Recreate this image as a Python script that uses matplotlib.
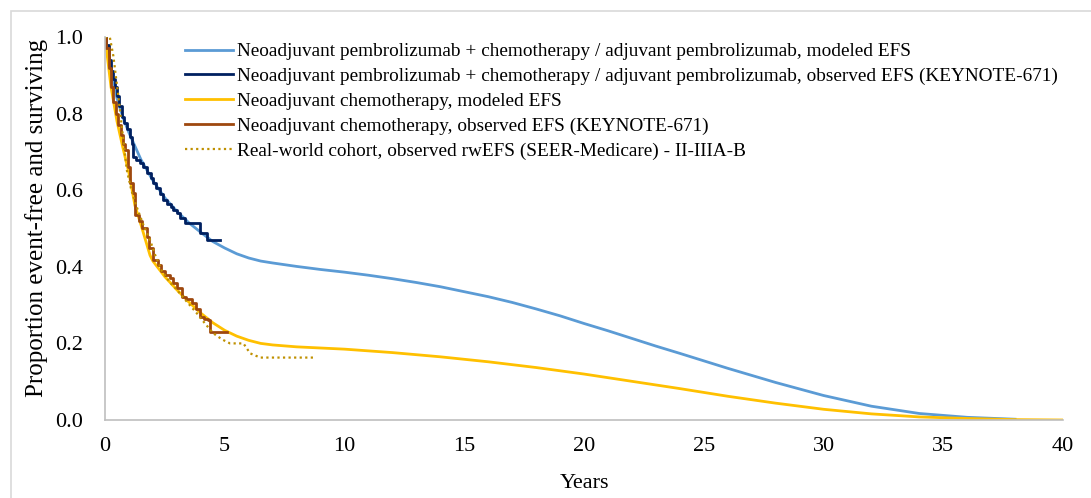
import matplotlib

matplotlib.use("Agg")
import matplotlib.pyplot as plt
from matplotlib.patches import Rectangle

# Modeled curves (years, proportion)
pem_model_t = [0, 0.25, 0.5, 0.75, 1, 1.5, 2, 2.5, 3, 3.5, 4, 4.5, 5, 5.5, 6, 6.5, 7, 8, 9, 10, 11, 12, 13, 14,
               15, 16, 17, 18, 19, 20, 21, 22, 23, 24, 26, 28, 30, 32, 34, 36, 38]
pem_model_s = [1.0, 0.91, 0.84, 0.79, 0.75, 0.68, 0.625, 0.58, 0.545, 0.515, 0.49, 0.466, 0.449, 0.434, 0.423,
               0.415, 0.41, 0.401, 0.393, 0.386, 0.378, 0.369, 0.359, 0.348, 0.335, 0.322, 0.307, 0.29, 0.272,
               0.252, 0.233, 0.213, 0.193, 0.174, 0.135, 0.098, 0.064, 0.036, 0.017, 0.007, 0.002]
chemo_model_t = [0, 0.25, 0.5, 0.75, 1, 1.25, 1.5, 1.88, 2, 2.5, 3, 3.5, 4, 4.5, 5, 5.5, 6, 6.5, 7, 8, 9, 10, 12,
                 14, 16, 18, 20, 22, 24, 26, 28, 30, 32, 34, 36, 38, 40]
chemo_model_s = [1.0, 0.87, 0.78, 0.71, 0.645, 0.56, 0.51, 0.43, 0.415, 0.374, 0.34, 0.308, 0.279, 0.254, 0.234,
                 0.219, 0.208, 0.2, 0.196, 0.191, 0.188, 0.185, 0.176, 0.165, 0.152, 0.137, 0.12, 0.101, 0.082,
                 0.062, 0.044, 0.028, 0.016, 0.008, 0.004, 0.001, 0.0]

# Observed KEYNOTE-671 EFS (step curves)
pem_obs_t = [0, 0.05, 0.15, 0.25, 0.35, 0.42, 0.5, 0.6, 0.7, 0.8, 0.9, 1.04, 1.12, 1.18, 1.3, 1.45, 1.6, 1.75,
             1.9, 2.02, 2.15, 2.3, 2.44, 2.6, 2.75, 2.85, 3.0, 3.15, 3.34, 3.97, 4.25, 4.81]
pem_obs_s = [1.0, 0.98, 0.94, 0.91, 0.89, 0.87, 0.845, 0.82, 0.79, 0.775, 0.76, 0.74, 0.72, 0.687, 0.68, 0.67,
             0.661, 0.645, 0.632, 0.618, 0.605, 0.59, 0.574, 0.565, 0.555, 0.548, 0.54, 0.528, 0.514, 0.487, 0.47,
             0.47]
chemo_obs_t = [0, 0.05, 0.15, 0.25, 0.35, 0.45, 0.55, 0.65, 0.75, 0.84, 0.95, 1.05, 1.18, 1.25, 1.4, 1.55, 1.74,
               1.85, 2.02, 2.2, 2.35, 2.51, 2.7, 2.85, 3.0, 3.2, 3.4, 3.62, 3.8, 3.97, 4.15, 4.32, 4.39, 5.1]
chemo_obs_s = [1.0, 0.97, 0.92, 0.87, 0.83, 0.80, 0.77, 0.745, 0.72, 0.705, 0.66, 0.62, 0.592, 0.535, 0.52, 0.50,
               0.478, 0.45, 0.418, 0.405, 0.39, 0.379, 0.37, 0.357, 0.345, 0.322, 0.315, 0.305, 0.29, 0.27, 0.265,
               0.261, 0.23, 0.23]

# Real-world SEER-Medicare rwEFS
rw_t = [0, 0.2, 0.35, 0.56, 0.75, 0.91, 1.1, 1.32, 1.6, 1.88, 2.1, 2.37, 2.7, 3.0, 3.4, 3.83, 4.2, 4.53, 4.9,
        5.22, 5.78, 6.06, 6.48, 8.82]
rw_s = [1.0, 1.0, 0.95, 0.844, 0.74, 0.653, 0.60, 0.557, 0.51, 0.47, 0.43, 0.39, 0.36, 0.34, 0.31, 0.279, 0.25,
        0.226, 0.21, 0.20, 0.20, 0.174, 0.163, 0.163]

labels = [
    "Neoadjuvant pembrolizumab + chemotherapy / adjuvant pembrolizumab, modeled EFS",
    "Neoadjuvant pembrolizumab + chemotherapy / adjuvant pembrolizumab, observed EFS (KEYNOTE-671)",
    "Neoadjuvant chemotherapy, modeled EFS",
    "Neoadjuvant chemotherapy, observed EFS (KEYNOTE-671)",
    "Real-world cohort, observed rwEFS (SEER-Medicare) - II-IIIA-B",
]

plt.rcParams["font.family"] = ["Liberation Serif", "DejaVu Serif"]

fig = plt.figure(figsize=(10.91, 4.98), dpi=100)
ax = fig.add_axes([105 / 1091, 78 / 498, 958 / 1091, 383 / 498])

# light outer frame of the original picture
fig.patches.append(Rectangle((11 / 1091, -0.05), 1.2, (498 - 11) / 498 + 0.05, transform=fig.transFigure,
                             fill=False, edgecolor="#d9d9d9", linewidth=1.2))

ax.plot(pem_model_t, pem_model_s, color="#5B9BD5", lw=2.0, label=labels[0])
ax.step(pem_obs_t, pem_obs_s, where="post", color="#002060", lw=2.0, label=labels[1])
ax.plot(chemo_model_t, chemo_model_s, color="#FFC000", lw=2.0, label=labels[2])
ax.step(chemo_obs_t, chemo_obs_s, where="post", color="#9E480E", lw=2.0, label=labels[3])
ax.plot(rw_t, rw_s, color="#BF9000", lw=1.6, linestyle=(0, (1, 1.5)), label=labels[4])

ax.set_xlim(0, 40)
ax.set_ylim(0, 1.0)
ax.set_xticks(range(0, 41, 5))
ax.set_yticks([0, 0.2, 0.4, 0.6, 0.8, 1.0])
ax.set_yticklabels([f"{v:.1f}" for v in [0, 0.2, 0.4, 0.6, 0.8, 1.0]])
ax.tick_params(length=0, labelsize=16, pad=12)
ax.tick_params(axis="y", pad=16)
for side in ("top", "right"):
    ax.spines[side].set_visible(False)
for side in ("left", "bottom"):
    ax.spines[side].set_color("#bfbfbf")
    ax.spines[side].set_linewidth(1.2)

ax.set_xlabel("Years", fontsize=16, labelpad=13)
ax.set_ylabel("Proportion event-free and surviving", fontsize=18)
ax.yaxis.set_label_coords(-0.059, 0.527)

ax.legend(loc="upper left", bbox_to_anchor=(0.075, 1.005), frameon=False, fontsize=13.9, handlelength=2.5,
          handletextpad=0.2, labelspacing=0.38, borderaxespad=0)

fig.savefig("out.png", dpi=100)
